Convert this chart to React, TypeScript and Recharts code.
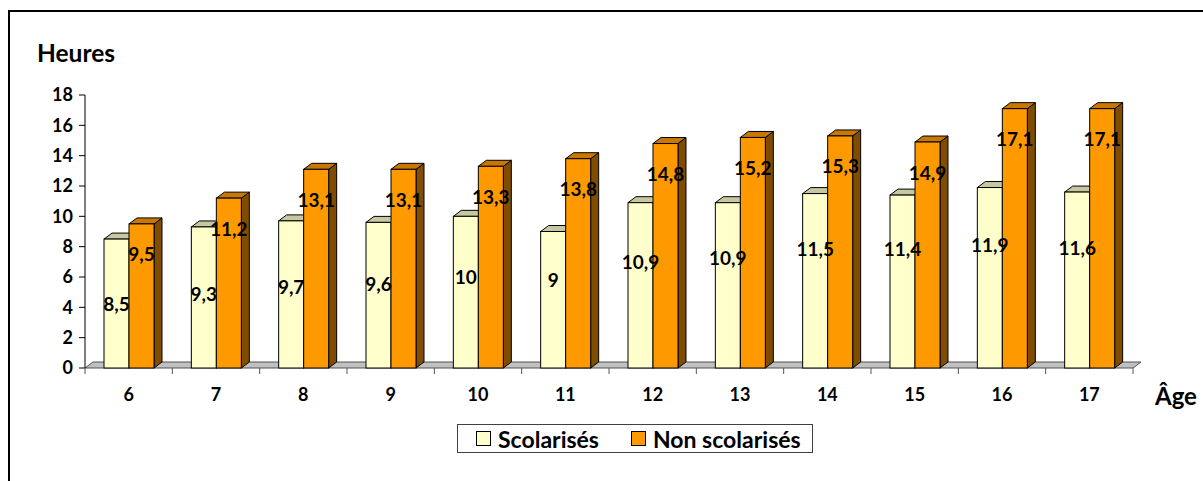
import { BarChart, Bar, XAxis, YAxis, LabelList, Legend, ReferenceLine } from 'recharts';

const AGES = ['6', '7', '8', '9', '10', '11', '12', '13', '14', '15', '16', '17'];
const SCOLARISES = [8.5, 9.3, 9.7, 9.6, 10, 9, 10.9, 10.9, 11.5, 11.4, 11.9, 11.6];
const NON_SCOLARISES = [9.5, 11.2, 13.1, 13.1, 13.3, 13.8, 14.8, 15.2, 15.3, 14.9, 17.1, 17.1];
const Y_TICKS = [0, 2, 4, 6, 8, 10, 12, 14, 16, 18];
const SERIES_NAMES = ['Scolarisés', 'Non scolarisés'];

const data = AGES.map((age, i) => ({
  age,
  scol: SCOLARISES[i],
  nonScol: NON_SCOLARISES[i],
}));

const WIDTH = 1203;
const HEIGHT = 481;
const MARGIN = { top: 95, right: 70, bottom: 83, left: 25 };
const Y_AXIS_W = 60;
const PLOT_W = WIDTH - MARGIN.left - MARGIN.right - Y_AXIS_W;
const BAND = PLOT_W / AGES.length;

const FONT = 'Lato, "Open Sans", sans-serif';
const DX = 8; // 3D depth, horizontal
const DY = 6; // 3D depth, vertical

const YELLOW = { face: '#FFFFCC', top: '#C8C8A0', side: '#A0A080' };
const ORANGE = { face: '#FF9900', top: '#C87800', side: '#7F4C00' };

const fmt = (v: number) => String(v).replace('.', ',');

function Bar3D(props: any) {
  const { x, y, width, height, colors } = props;
  if (width == null || height == null) return null;
  const r = x + width;
  const b = y + height;
  return (
    <g>
      <polygon
        points={`${r},${y} ${r + DX},${y - DY} ${r + DX},${b - DY} ${r},${b}`}
        fill={colors.side}
        stroke="#000"
        strokeWidth={1}
      />
      <polygon
        points={`${x},${y} ${x + DX},${y - DY} ${r + DX},${y - DY} ${r},${y}`}
        fill={colors.top}
        stroke="#000"
        strokeWidth={1}
      />
      <rect x={x} y={y} width={width} height={height} fill={colors.face} stroke="#000" strokeWidth={1} />
    </g>
  );
}

// gray floor of the 3D plot, drawn along y = 0
function Floor(props: any) {
  const { x1, y1, x2 } = props;
  return (
    <polygon
      points={`${x1},${y1} ${x1 + DX},${y1 - DY} ${x2 + DX},${y1 - DY} ${x2},${y1}`}
      fill="#C0C0C0"
      stroke="#505050"
      strokeWidth={1}
    />
  );
}

// category label plus tick marks on the category boundaries
function AgeTick(props: any) {
  const { x, y, payload, index } = props;
  const left = x - BAND / 2;
  const right = x + BAND / 2;
  return (
    <g>
      <line x1={left} y1={y} x2={left} y2={y + 6} stroke="#555" strokeWidth={1} />
      {index === AGES.length - 1 && (
        <line x1={right} y1={y} x2={right} y2={y + 6} stroke="#555" strokeWidth={1} />
      )}
      <text
        x={x}
        y={y + 33}
        textAnchor="middle"
        fontFamily={FONT}
        fontWeight="bold"
        fontSize={18}
        fill="#000"
      >
        {payload.value}
      </text>
    </g>
  );
}

function labelBox(p: any) {
  const vb = p.viewBox ?? p;
  return {
    x: vb.x ?? p.x,
    y: vb.y ?? p.y,
    width: vb.width ?? p.width,
    height: vb.height ?? p.height,
  };
}

// Excel's 3D label placement drifts upward across the chart for the first series
function ScolLabel(p: any) {
  const { x, y, width, height } = labelBox(p);
  const lift = Math.min(4 * (p.index ?? 0), 33);
  return (
    <text
      x={x + width / 2}
      y={y + height / 2 - lift}
      textAnchor="middle"
      dominantBaseline="central"
      fontFamily={FONT}
      fontWeight="bold"
      fontSize={19}
      fill="#000"
    >
      {fmt(p.value)}
    </text>
  );
}

function NonScolLabel(p: any) {
  const { x, y, width } = labelBox(p);
  return (
    <text
      x={x + width / 2}
      y={y + 30}
      textAnchor="middle"
      dominantBaseline="central"
      fontFamily={FONT}
      fontWeight="bold"
      fontSize={19}
      fill="#000"
    >
      {fmt(p.value)}
    </text>
  );
}

function LegendBox() {
  const item = (color: string, name: string, gap: number) => (
    <div style={{ display: 'flex', alignItems: 'center', marginRight: gap }}>
      <div style={{ width: 13, height: 13, background: color, border: '1px solid #000', marginRight: 7 }} />
      <span>{name}</span>
    </div>
  );
  return (
    <div
      style={{
        boxSizing: 'border-box',
        width: 356,
        height: 29,
        border: '1px solid #404040',
        background: '#fff',
        display: 'flex',
        alignItems: 'center',
        paddingLeft: 18,
        fontFamily: FONT,
        fontWeight: 'bold',
        fontSize: 23,
        color: '#000',
      }}
    >
      {item(YELLOW.face, SERIES_NAMES[0], 32)}
      {item(ORANGE.face, SERIES_NAMES[1], 0)}
    </div>
  );
}

export default function App() {
  return (
    <div
      style={{
        position: 'fixed',
        left: 0,
        top: 0,
        width: WIDTH,
        height: HEIGHT,
        overflow: 'hidden',
        background: '#fff',
      }}
    >
      <div
        style={{
          position: 'absolute',
          left: 8,
          top: 10,
          width: 1300,
          height: 600,
          border: '2px solid #000',
        }}
      />
      <div style={{ position: 'absolute', left: 0, top: 0 }}>
        <BarChart
          width={WIDTH}
          height={HEIGHT}
          data={data}
          margin={MARGIN}
          barGap={0}
          barSize={25}
        >
          <XAxis
            dataKey="age"
            axisLine={false}
            tickLine={false}
            tickSize={0}
            tickMargin={0}
            height={30}
            interval={0}
            tick={<AgeTick />}
            label={{
              content: ({ viewBox }: any) => (
                <text
                  x={viewBox.x + viewBox.width + 22}
                  y={viewBox.y + 37}
                  fontFamily={FONT}
                  fontWeight="bold"
                  fontSize={24}
                  fill="#000"
                >
                  Âge
                </text>
              ),
            }}
          />
          <YAxis
            domain={[0, 18]}
            ticks={Y_TICKS}
            width={Y_AXIS_W}
            tickSize={6}
            tickMargin={6}
            stroke="#000"
            tick={{ fontFamily: FONT, fontWeight: 'bold', fontSize: 18, fill: '#000' }}
            label={{
              content: ({ viewBox }: any) => (
                <text
                  x={viewBox.x + 12}
                  y={viewBox.y - 33}
                  fontFamily={FONT}
                  fontWeight="bold"
                  fontSize={24.5}
                  fill="#000"
                >
                  Heures
                </text>
              ),
            }}
          />
          <ReferenceLine y={0} shape={Floor} zIndex={-50} />
          <Legend
            layout="horizontal"
            verticalAlign="middle"
            content={() => <LegendBox />}
            wrapperStyle={{ left: 457, top: 424, width: 356, height: 29 }}
          />
          <Bar
            dataKey="scol"
            name={SERIES_NAMES[0]}
            fill={YELLOW.face}
            isAnimationActive={false}
            shape={(p: any) => <Bar3D {...p} colors={YELLOW} />}
          >
            <LabelList dataKey="scol" content={ScolLabel} />
          </Bar>
          <Bar
            dataKey="nonScol"
            name={SERIES_NAMES[1]}
            fill={ORANGE.face}
            isAnimationActive={false}
            shape={(p: any) => <Bar3D {...p} colors={ORANGE} />}
          >
            <LabelList dataKey="nonScol" content={NonScolLabel} />
          </Bar>
        </BarChart>
      </div>
    </div>
  );
}
